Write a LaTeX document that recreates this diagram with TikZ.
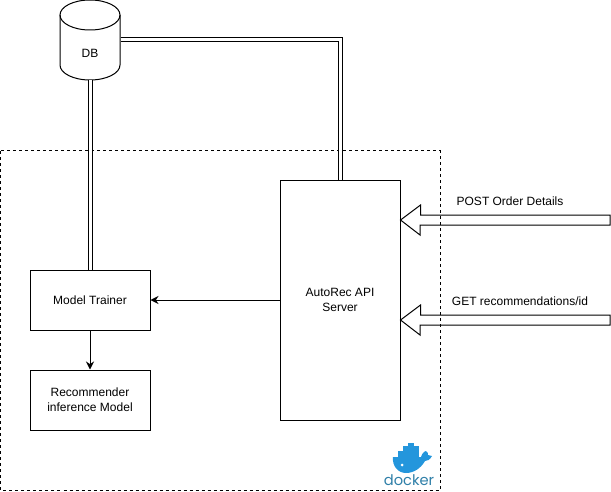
\documentclass[tikz,border=0pt]{standalone}
\usepackage{fontspec}
\setmainfont{Liberation Sans}
\newfontfamily\logofont{Poppins}
\usepackage{xcolor}
\usetikzlibrary{arrows.meta,positioning}
\definecolor{whaleblue}{HTML}{2496DC}
\definecolor{dockertext}{HTML}{2F7FA8}
\tikzset{
  box/.style={draw, minimum width=90pt, inner sep=0pt, align=center},
  pipe/.style={double, double distance=2.25pt, line width=0.75pt},
  hollow/.style={line width=0.75pt, line join=miter}
}

\begin{document}
\begin{tikzpicture}[x=0.75pt, y=-0.75pt, font=\fontsize{9}{11.25}\selectfont, line width=0.75pt, >={Stealth[length=6pt,width=6pt]}]
	\useasboundingbox (0, 0) rectangle (611, 492);

	% docker boundary
	\draw[dash pattern=on 2.25pt off 2.25pt] (0.5, 151) rectangle (440, 490);

	\node[box, minimum height=180pt] (api) at (340, 300) {AutoRec API\\Server};
	\node[box, minimum height=45pt] (trainer) at (90, 300) {Model Trainer};
	\node[box, minimum height=45pt, below=29.25pt of trainer] (recommender) {Recommender\\inference Model};

	% database
	\node[minimum width=45pt, minimum height=60pt, inner sep=0pt] (db) at (90, 40) {};
	\node (dbtext) at (90, 53) {DB};
	\draw (90, 15) ellipse (22.5pt and 11.25pt);
	\draw (60, 15) -- (60, 65) arc[start angle=180, end angle=360, x radius=22.5pt, y radius=11.25pt] -- (120, 15);

	% pipes
	\draw[pipe] (db.south) -- (trainer.north);
	\draw[pipe] (db.east) -| (api.north);

	\draw[->] (api.west |- trainer) -- (trainer.east);
	\draw[->] (trainer.south) -- (recommender.north);

	% block arrows
	\coordinate (postend) at (610, 220);
	\coordinate (getend) at (610, 320);
	\draw[hollow] (api.east |- postend) -- ++(20, -15) -- ++(0, 10) -- ([yshift=3.75pt]postend) -- ([yshift=-3.75pt]postend) -- (420, 225) -- ++(0, 10) -- cycle;
	\draw[hollow] (api.east |- getend) -- ++(20, -15) -- ++(0, 10) -- ([yshift=3.75pt]getend) -- ([yshift=-3.75pt]getend) -- (420, 325) -- ++(0, 10) -- cycle;
	\node (posttext) at (510, 201) {POST Order Details};
	\node (gettext) at (520, 301) {GET recommendations/id};

	% docker logo
	\fill[whaleblue] (393, 457) -- (421, 457) .. controls (422, 453) and (425, 451) .. (426, 451) .. controls (428, 452) and (428, 454) .. (428, 455) -- (432, 456) .. controls (430, 460) and (427, 461) .. (425, 461) .. controls (421, 468) and (414, 473) .. (406, 473) .. controls (398, 473) and (392, 466) .. (393, 457) -- cycle;
	\fill[whaleblue] (398, 451) rectangle (419, 456.5);
	\fill[whaleblue] (403, 445.5) rectangle (419, 450.5);
	\fill[whaleblue] (408, 443) rectangle (414, 445.5);
	\fill[white] (402, 465) circle (1.5);
	\node[text=dockertext, font=\logofont\fontsize{11}{12}\selectfont, inner sep=0pt] (dockerlabel) at (409, 480) {docker};
\end{tikzpicture}
\end{document}
